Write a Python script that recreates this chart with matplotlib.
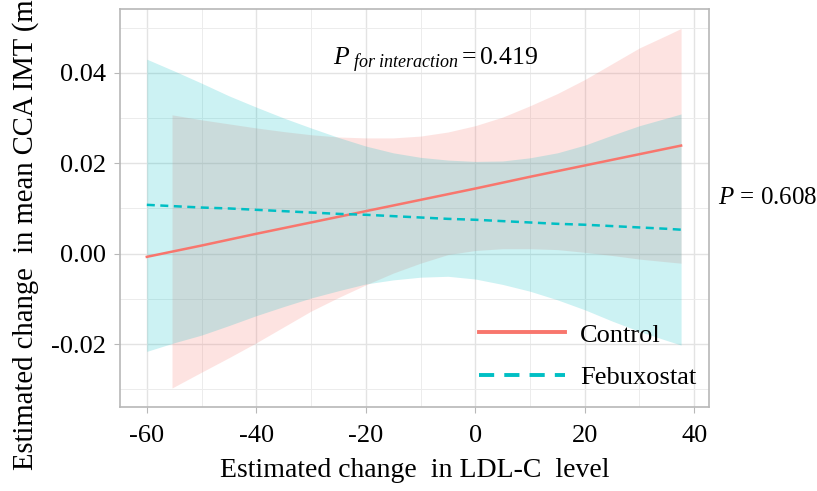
import numpy as np
import matplotlib
matplotlib.use('Agg')
import matplotlib.pyplot as plt
from matplotlib.lines import Line2D

plt.rcParams['font.family'] = ['Liberation Serif', 'DejaVu Serif']
plt.rcParams['mathtext.fontset'] = 'custom'
plt.rcParams['mathtext.rm'] = 'Liberation Serif'
plt.rcParams['mathtext.it'] = 'Liberation Serif:italic'

# Febuxostat fit and confidence band
x_febu = [-60, -55, -50, -45, -40, -35, -30, -25, -20, -15, -10, -5, 0,
          5, 10, 15, 20, 25, 30, 35, 37.6]
fit_febu = [0.0108, 0.0105, 0.0102, 0.0100, 0.0097, 0.0094, 0.0091, 0.0088, 0.0086, 0.0083, 0.0080,
            0.0077, 0.0075, 0.0072, 0.0069, 0.0066, 0.0064, 0.0061, 0.0058, 0.0055, 0.0053]
upper_febu = [0.0430, 0.0404, 0.0377, 0.0349, 0.0324, 0.0300, 0.0278, 0.0257, 0.0238, 0.0223, 0.0213,
              0.0207, 0.0204, 0.0205, 0.0212, 0.0223, 0.0240, 0.0262, 0.0283, 0.0300, 0.0309]
lower_febu = [-0.0216, -0.0197, -0.0180, -0.0159, -0.0137, -0.0117, -0.0098, -0.0082, -0.0067, -0.0058,
              -0.0052, -0.0050, -0.0056, -0.0068, -0.0083, -0.0102, -0.0124, -0.0149, -0.0172, -0.0192, -0.0202]

# Control fit (line) and confidence band
x_ctrl = [-60, -50, -40, -30, -20, -10, 0, 10, 20, 30, 37.6]
fit_ctrl = [-0.0007, 0.0018, 0.0044, 0.0069, 0.0094, 0.0119, 0.0144, 0.0170, 0.0195, 0.0220, 0.0239]
x_ctrl_band = [-55.4, -50, -45, -40, -35, -30, -25, -20, -15, -10, -5, 0,
               5, 10, 15, 20, 25, 30, 35, 37.6]
upper_ctrl = [0.0307, 0.0296, 0.0287, 0.0278, 0.0270, 0.0263, 0.0258, 0.0256, 0.0256, 0.0260, 0.0269, 0.0283,
              0.0302, 0.0327, 0.0354, 0.0385, 0.0420, 0.0455, 0.0483, 0.0498]
lower_ctrl = [-0.0297, -0.0262, -0.0230, -0.0197, -0.0162, -0.0127, -0.0097, -0.0069, -0.0043, -0.0021, -0.0002,
              0.0007, 0.0011, 0.0011, 0.0009, 0.0003, -0.0004, -0.0012, -0.0018, -0.0021]

xticks = [-60, -40, -20, 0, 20, 40]
xtick_labels = ['-60', '-40', '-20', '0', '20', '40']
yticks = [-0.02, 0.0, 0.02, 0.04]
ytick_labels = ['-0.02', '0.00', '0.02', '0.04']

red = '#F8766D'
teal = '#00BFC4'

fig = plt.figure(figsize=(8.17, 4.91), dpi=100)
ax = fig.add_axes([120 / 817, 1 - 407 / 491, 589 / 817, 398 / 491])

# ribbons and lines (control first, like ggplot group order)
ax.fill_between(x_ctrl_band, lower_ctrl, upper_ctrl, color=red, alpha=0.2, lw=0, zorder=2)
ax.fill_between(x_febu, lower_febu, upper_febu, color=teal, alpha=0.2, lw=0, zorder=3)
ax.plot(x_ctrl, fit_ctrl, color=red, lw=1.8, zorder=4)
ax.plot(x_febu, fit_febu, color=teal, lw=1.8, dashes=(3.2, 2.2), zorder=4)

ax.set_xlim(-64.9, 42.7)
ax.set_ylim(-0.0339, 0.0541)
ax.set_xticks(xticks)
ax.set_xticklabels(xtick_labels)
ax.set_yticks(yticks)
ax.set_yticklabels(ytick_labels)
ax.set_xticks([-50, -30, -10, 10, 30], minor=True)
ax.set_yticks([-0.03, -0.01, 0.01, 0.03, 0.05], minor=True)

ax.grid(which='major', color='#E3E3E3', lw=1.0, zorder=0)
ax.grid(which='minor', color='#ECECEC', lw=0.7, zorder=0)
ax.set_axisbelow(True)
for s in ax.spines.values():
    s.set_color('#B8B8B8')
    s.set_linewidth(1.2)
ax.tick_params(which='major', color='#B8B8B8', length=4, width=0.8,
               labelsize=19, labelcolor='black', pad=6)
ax.tick_params(axis='x', which='major', pad=9)
ax.tick_params(which='minor', length=0)

ax.set_xlabel('Estimated change  in LDL-C  level', fontsize=20, labelpad=8)
fig.text(26 / 817, 1 - 470 / 491, 'Estimated change  in mean CCA IMT (mm)',
         rotation=90, ha='center', va='bottom', fontsize=20.6)

# legend without frame, bottom right inside the panel
handles = [Line2D([], [], color=red, lw=2.8),
           Line2D([], [], color=teal, lw=2.8, dashes=(3.9, 2.6))]
ax.legend(handles, ['Control', 'Febuxostat'], loc='lower right',
          bbox_to_anchor=(1 - 13 / 589, 18 / 398), frameon=False, fontsize=19,
          handlelength=3.26, handletextpad=0.57, labelspacing=0.72,
          borderpad=0, borderaxespad=0)

fig.text(333 / 817, 1 - 65 / 491, r'$P_{\ \mathit{for\ interaction}}\,$=$\,$0.419',
         fontsize=18.5, ha='left', va='baseline')
fig.text(718 / 817, 1 - 204 / 491, r'$P$ = 0.608', fontsize=18,
         ha='left', va='baseline')

plt.savefig('out.png', dpi=100)
plt.close()
